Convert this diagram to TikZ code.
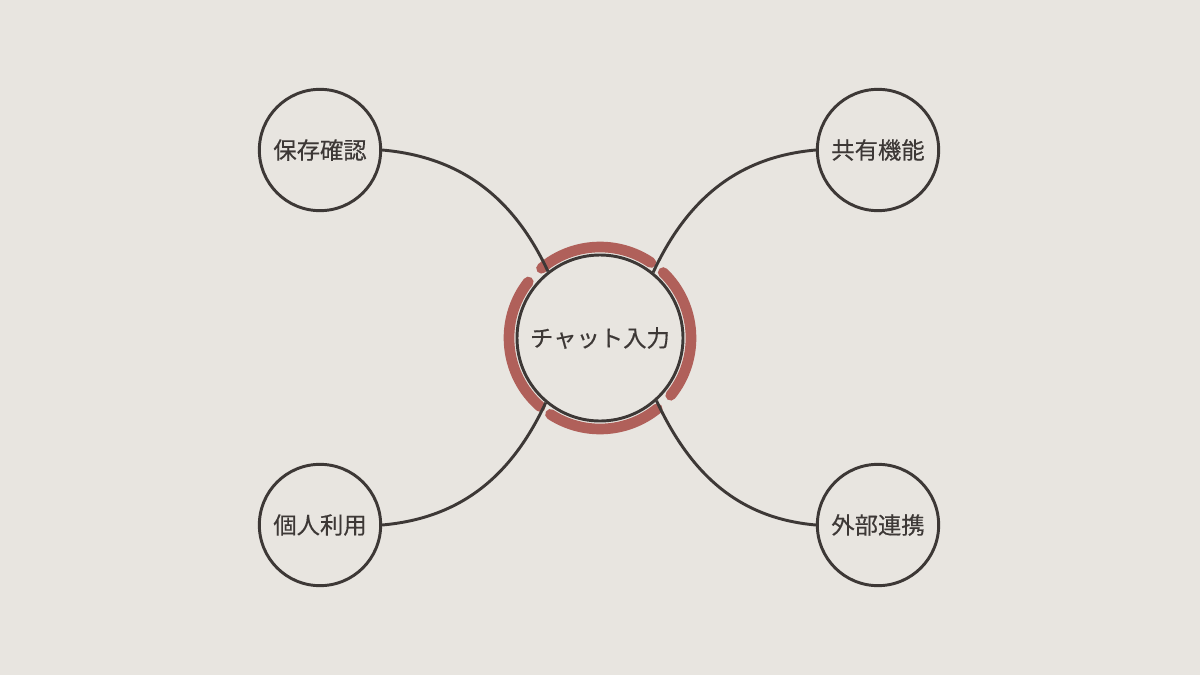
\documentclass[tikz,border=0pt]{standalone}
\usepackage{fontspec}
\setmainfont{Noto Sans CJK JP}
\newfontfamily\labelfont[FakeBold=0.4]{Noto Sans CJK JP}
\usepackage{tikz}
\usetikzlibrary{calc}

\definecolor{bgcol}{HTML}{E8E5E0}
\definecolor{inkcol}{HTML}{3D3836}
\definecolor{redcol}{HTML}{B0605A}

\begin{document}
\begin{tikzpicture}[x=0.75pt, y=-0.75pt,
 leaf/.style={circle, draw=inkcol, line width=2.2pt, minimum size=91pt, inner sep=0pt, text=inkcol, font=\labelfont\fontsize{17.5}{20}\selectfont},
 link/.style={draw=inkcol, line width=2.2pt},
 ring/.style={draw=redcol, line width=8pt, line cap=round}]

\fill[bgcol] (0,0) rectangle (1200,675);
\useasboundingbox (0,0) rectangle (1200,675);

 % centre
\node[circle, draw=inkcol, line width=2.2pt, minimum size=124.5pt, inner sep=0pt, text=inkcol, font=\labelfont\fontsize{17.5}{20}\selectfont] (chat) at (600,338) {チャット入力};

\draw[ring] (600,338) ++(51:91) arc[start angle=51, end angle=123, radius=91];
\draw[ring] (600,338) ++(131:91) arc[start angle=131, end angle=218, radius=91];
\draw[ring] (600,338) ++(230:91) arc[start angle=230, end angle=304, radius=91];
\draw[ring] (600,338) ++(314:91) arc[start angle=314, end angle=399, radius=91];

 % outer nodes
\node[leaf] (save) at (320,150) {保存確認};
\node[leaf] (share) at (878,150) {共有機能};
\node[leaf] (personal) at (320,525) {個人利用};
\node[leaf] (external) at (878,525) {外部連携};

\draw[link] (save.east) to[out=-5, in=115] (chat.128);
\draw[link] (share.west) to[out=185, in=65] (chat.51);
\draw[link] (personal.east) to[out=5, in=-115] (chat.-130);
\draw[link] (external.west) to[out=175, in=-65] (chat.-48);

\end{tikzpicture}
\end{document}
